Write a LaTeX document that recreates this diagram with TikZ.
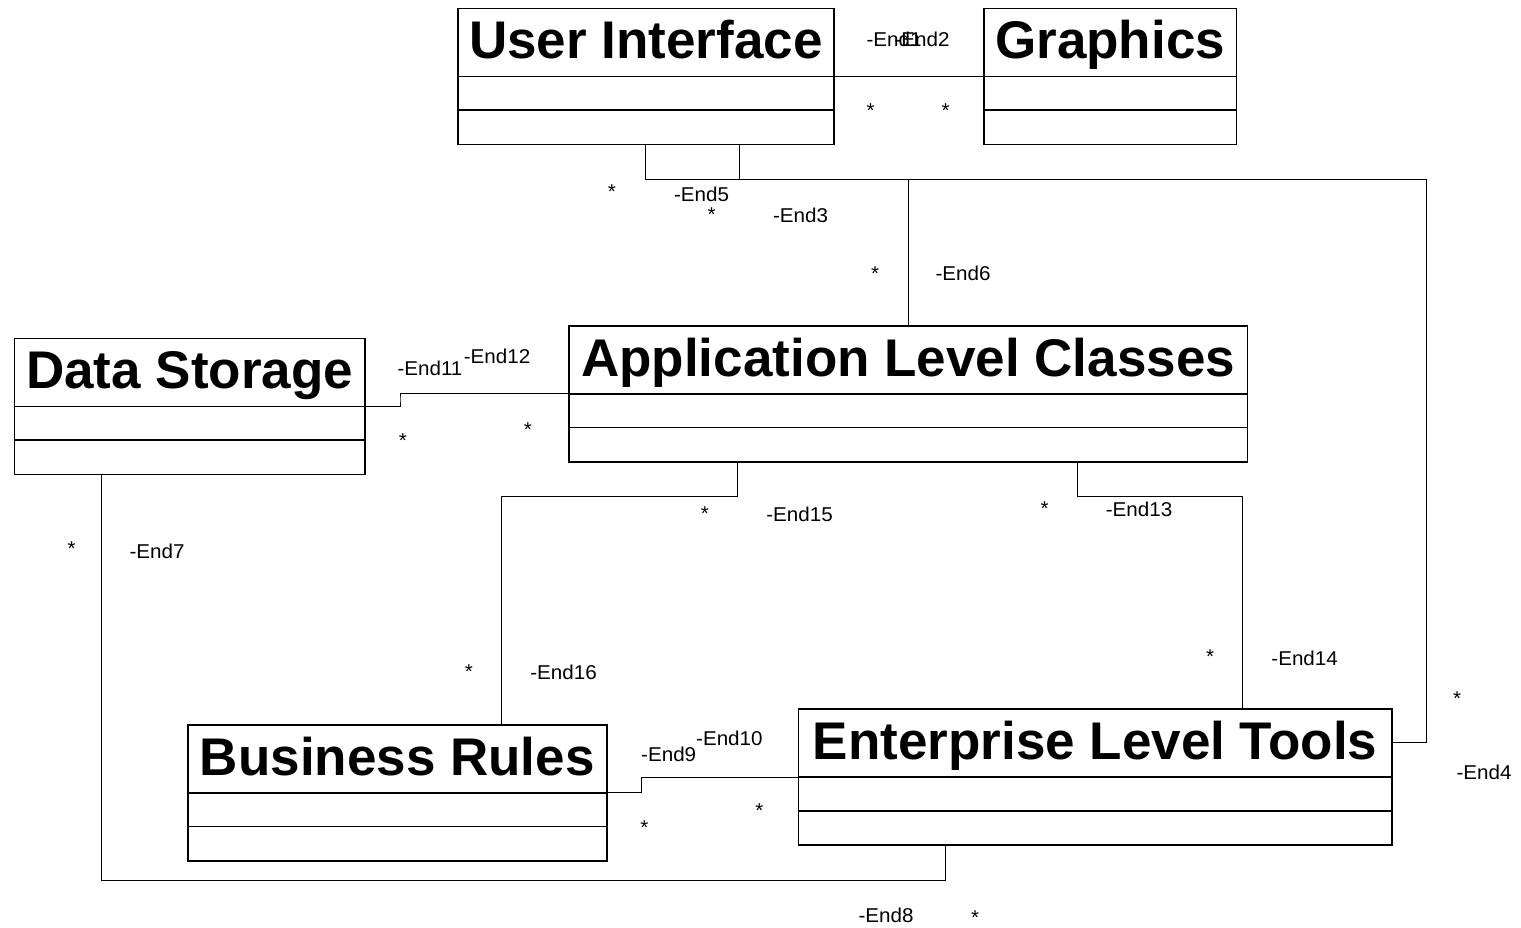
\documentclass[tikz,border=0pt]{standalone}
\usepackage{fontspec}
\setmainfont{Liberation Sans}
\newfontfamily\lblfont[FakeStretch=1.03]{Liberation Sans}
\begin{document}
\begin{tikzpicture}[x=1pt,y=-1pt,
  clsbox/.style={draw=black,line width=1.8pt,rectangle,minimum height=136pt,inner sep=0pt,anchor=north west},
  cline/.style={line width=1.8pt},
  conn/.style={line width=1pt},
  ctitle/.style={font=\bfseries\fontsize{53}{60}\selectfont,inner sep=0pt,anchor=base},
  lbl/.style={font=\lblfont\fontsize{20}{23}\selectfont,inner sep=0pt,anchor=base},
  mult/.style={lbl,yshift=-10pt}]
\fill[white] (0,0) rectangle (1521,927);
\useasboundingbox (0,0) rectangle (1521,927);
\newcommand{\umlclass}[5]{%
  \node[clsbox,minimum width=#4pt] (#1) at (#2,#3) {};
  \draw[cline] ([yshift=-69pt]#1.north west) -- ([yshift=-69pt]#1.north east);
  \draw[cline] ([yshift=-102.5pt]#1.north west) -- ([yshift=-102.5pt]#1.north east);
  \node[ctitle] (#1-t) at ([yshift=-51pt]#1.north) {#5};
}
\umlclass{ui}{457}{7.5}{376}{User Interface}
\umlclass{gr}{983}{7.5}{252.5}{Graphics}
\umlclass{alc}{568}{325}{678.5}{Application Level Classes}
\umlclass{ds}{13.5}{337.5}{350.5}{Data Storage}
\umlclass{br}{187}{724}{418.7}{Business Rules}
\umlclass{elt}{797.5}{708.3}{593.5}{Enterprise Level Tools}

% turning points
\coordinate (c3) at (1426.5,179);
\coordinate (c4) at (400,399);
\coordinate (c5) at (101,880);
\coordinate (c6) at (501,496.5);
\coordinate (c7) at (1242.5,496.7);
\coordinate (c8) at (641.6,784);

% connectors
\draw[conn] (ui.east) -- (gr.west);
\draw[conn] ([xshift=188pt]ui.south west) |- ([yshift=146pt]alc.north) -- (alc.north);
\draw[conn] ([xshift=282pt]ui.south west) |- (c3) |- ([yshift=34.5pt]elt.east);
\draw[conn] (ds.east) -| (c4) |- (alc.west);
\draw[conn] ([xshift=87.5pt]ds.south west) -- (c5) -| ([xshift=147.5pt]elt.south west);
\draw[conn] ([xshift=169pt]alc.south west) |- (c6) -- ([xshift=314pt]br.north west);
\draw[conn] ([xshift=509pt]alc.south west) |- (c7) -- ([xshift=445pt]elt.north west);
\draw[conn] (br.east) -| (c8) |- (elt.west);

% role labels
\node[lbl] (e1) at (894,46) {-End1};
\node[lbl] (e2) at (922,46) {-End2};
\node[lbl] (e5) at (701.5,201) {-End5};
\node[lbl] (e3) at (800.5,222.7) {-End3};
\node[lbl] (e6) at (963,280.6) {-End6};
\node[lbl] (e4) at (1484,779.5) {-End4};
\node[lbl] (e11) at (430,375) {-End11};
\node[lbl] (e12) at (497,363) {-End12};
\node[lbl] (e7) at (157,558.3) {-End7};
\node[lbl] (e8) at (886,922) {-End8};
\node[lbl] (e15) at (799.5,521.7) {-End15};
\node[lbl] (e16) at (563.5,679) {-End16};
\node[lbl] (e13) at (1139,516.7) {-End13};
\node[lbl] (e14) at (1304.6,665) {-End14};
\node[lbl] (e9) at (668.7,761.7) {-End9};
\node[lbl] (e10) at (729.4,745) {-End10};

% multiplicities
\node[mult] (m1) at (870.7,107.3) {*};
\node[mult] (m2) at (945.7,107.3) {*};
\node[mult] (m5) at (612,188.3) {*};
\node[mult] (m3) at (711.7,211.7) {*};
\node[mult] (m6) at (875,270) {*};
\node[mult] (m4) at (1457,695) {*};
\node[mult] (m11) at (403,437) {*};
\node[mult] (m12) at (528,426) {*};
\node[mult] (m7) at (71.7,545) {*};
\node[mult] (m8) at (975,914) {*};
\node[mult] (m15) at (705,510) {*};
\node[mult] (m16) at (469,668) {*};
\node[mult] (m13) at (1044.6,505) {*};
\node[mult] (m14) at (1210,653.3) {*};
\node[mult] (m9) at (644.3,824.3) {*};
\node[mult] (m10) at (759.3,807.7) {*};
\end{tikzpicture}
\end{document}
